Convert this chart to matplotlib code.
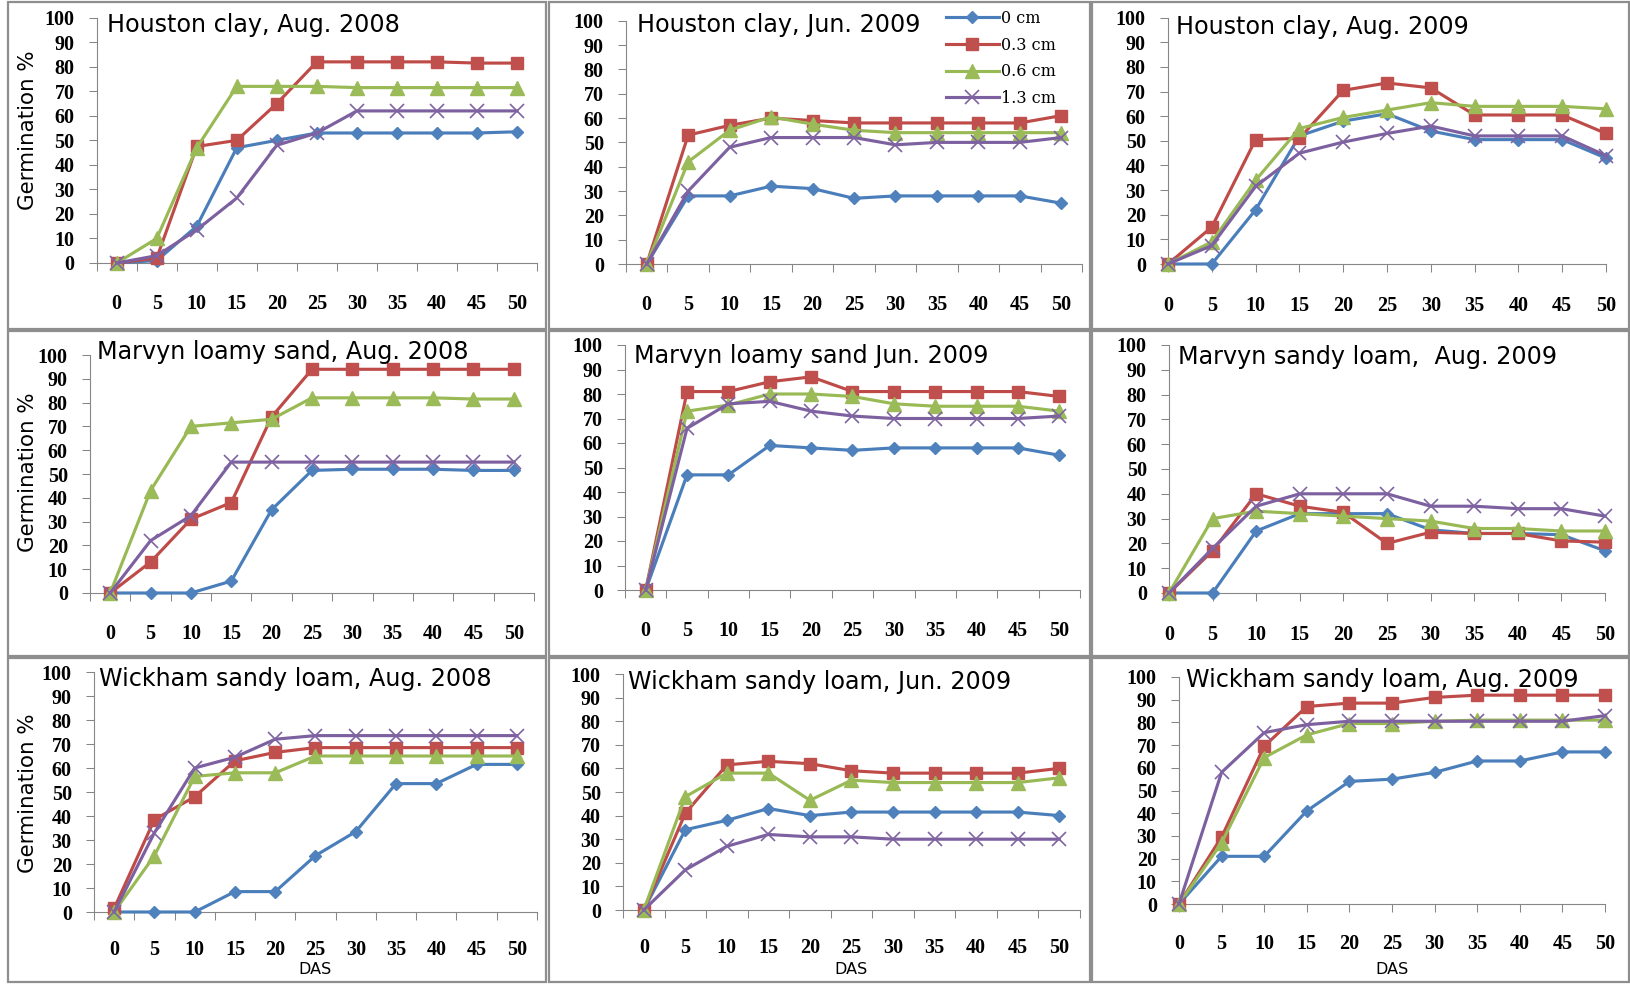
import matplotlib
matplotlib.use("Agg")
import matplotlib.pyplot as plt
from matplotlib.patches import Rectangle
from matplotlib.lines import Line2D
import numpy as np

# ---------------- data ----------------
das = [0, 5, 10, 15, 20, 25, 30, 35, 40, 45, 50]
depths = ["0 cm", "0.3 cm", "0.6 cm", "1.3 cm"]

# Houston clay, Aug. 2008
hc08_0 = [0, 1, 15, 47, 50, 53, 53, 53, 53, 53, 53.5]
hc08_3 = [0, 2, 47.5, 50, 65, 82, 82, 82, 82, 81.5, 81.5]
hc08_6 = [0, 10, 47, 72, 72, 72, 71.5, 71.5, 71.5, 71.5, 71.5]
hc08_13 = [0, 3, 13.5, 26.5, 48, 53, 62, 62, 62, 62, 62]
# Houston clay, Jun. 2009
hcj09_0 = [0, 28, 28, 32, 31, 27, 28, 28, 28, 28, 25]
hcj09_3 = [0, 53, 57, 60, 59, 58, 58, 58, 58, 58, 61]
hcj09_6 = [0, 42, 55, 60.5, 57.5, 55, 54, 54, 54, 54, 54]
hcj09_13 = [0, 30, 48, 52, 52, 52, 49, 50, 50, 50, 52]
# Houston clay, Aug. 2009
hca09_0 = [0, 0, 22, 52, 58, 61, 54, 50.5, 50.5, 50.5, 43]
hca09_3 = [0, 15, 50.5, 51, 70.5, 73.5, 71.5, 60.5, 60.5, 60.5, 53]
hca09_6 = [0, 9, 34, 55, 59.5, 62.5, 65.5, 64, 64, 64, 63]
hca09_13 = [0, 7.5, 31.5, 45, 49.5, 53, 56, 52, 52, 52, 44]
# Marvyn loamy sand, Aug. 2008
mla08_0 = [0, 0, 0, 5, 35, 51.5, 52, 52, 52, 51.5, 51.5]
mla08_3 = [0, 13, 31, 38, 74, 94, 94, 94, 94, 94, 94]
mla08_6 = [0, 43, 70, 71.5, 73, 82, 82, 82, 82, 81.5, 81.5]
mla08_13 = [0, 22, 32.5, 55, 55, 55, 55, 55, 55, 55, 55]
# Marvyn loamy sand Jun. 2009
mlj09_0 = [0, 47, 47, 59, 58, 57, 58, 58, 58, 58, 55]
mlj09_3 = [0, 81, 81, 85, 87, 81, 81, 81, 81, 81, 79]
mlj09_6 = [0, 73, 75.5, 80, 80, 79, 76, 75, 75, 75, 73]
mlj09_13 = [0, 66, 76, 77, 73, 71, 70, 70, 70, 70, 71]
# Marvyn sandy loam, Aug. 2009
msa09_0 = [0, 0, 25, 32, 32, 32, 25.5, 24, 24, 23.5, 17]
msa09_3 = [0, 17, 40, 35, 32.5, 20, 24.5, 24, 24, 21, 20.5]
msa09_6 = [0, 30, 33, 32, 31, 30, 29, 26, 26, 25, 25]
msa09_13 = [0, 18, 35, 40, 40, 40, 35, 35, 34, 34, 31]
# Wickham sandy loam, Aug. 2008
wsa08_0 = [0, 0, 0, 8.5, 8.5, 23.5, 33.5, 53.5, 53.5, 61.5, 61.5]
wsa08_3 = [1.5, 38.5, 48, 63, 66.5, 68.5, 68.5, 68.5, 68.5, 68.5, 68.5]
wsa08_6 = [0, 23.5, 56.5, 58, 58, 65, 65, 65, 65, 65, 65]
wsa08_13 = [0, 33, 60, 64.5, 72, 73.5, 73.5, 73.5, 73.5, 73.5, 73.5]
# Wickham sandy loam, Jun. 2009
wsj09_0 = [0, 34, 38, 43, 40, 41.5, 41.5, 41.5, 41.5, 41.5, 40]
wsj09_3 = [0, 41, 61.5, 63, 62, 59, 58, 58, 58, 58, 60]
wsj09_6 = [0, 48, 58, 58, 46.5, 55, 54, 54, 54, 54, 56]
wsj09_13 = [0, 17, 27, 32, 31, 31, 30, 30, 30, 30, 30]
# Wickham sandy loam, Aug. 2009
wsa09_0 = [0, 21, 21, 41, 54, 55, 58, 63, 63, 67, 67]
wsa09_3 = [0, 29.5, 69.5, 87, 88.5, 88.5, 91, 92, 92, 92, 92]
wsa09_6 = [0, 27, 64.5, 74.5, 79.5, 79.5, 80.5, 81, 81, 81, 81]
wsa09_13 = [0, 58, 75.5, 79, 80.5, 80.5, 80.5, 80.5, 80.5, 80.5, 83]

titles = ["Houston clay, Aug. 2008", "Houston clay, Jun. 2009", "Houston clay, Aug. 2009",
          "Marvyn loamy sand, Aug. 2008", "Marvyn loamy sand Jun. 2009", "Marvyn sandy loam,  Aug. 2009",
          "Wickham sandy loam, Aug. 2008", "Wickham sandy loam, Jun. 2009", "Wickham sandy loam, Aug. 2009"]

panel_series = [
    [hc08_0, hc08_3, hc08_6, hc08_13],
    [hcj09_0, hcj09_3, hcj09_6, hcj09_13],
    [hca09_0, hca09_3, hca09_6, hca09_13],
    [mla08_0, mla08_3, mla08_6, mla08_13],
    [mlj09_0, mlj09_3, mlj09_6, mlj09_13],
    [msa09_0, msa09_3, msa09_6, msa09_13],
    [wsa08_0, wsa08_3, wsa08_6, wsa08_13],
    [wsj09_0, wsj09_3, wsj09_6, wsj09_13],
    [wsa09_0, wsa09_3, wsa09_6, wsa09_13],
]

# ---------------- layout (pixels) ----------------
W, H = 1631, 984
fig = plt.figure(figsize=(W / 100, H / 100), dpi=100)
fig.patch.set_facecolor("white")

axes_px = [
    (96.7, 17.7, 537, 263), (626, 20.8, 1082, 264), (1168, 17.7, 1606, 264),
    (90, 355, 534, 593), (625, 345, 1080, 590), (1169, 345, 1605, 593),
    (94, 672, 537, 912), (623, 674, 1080, 910), (1179, 677, 1605, 904),
]
categorical = [True, True, False, True, True, False, True, True, False]
title_pos = [(107, 32), (637, 32), (1176, 34),
             (97, 359), (634, 363), (1178, 364),
             (99, 686), (628, 689), (1186, 687)]
col_px = [(8, 546), (549, 1090), (1092, 1629)]
row_px = [(2, 329), (331, 656), (658, 982)]

styles = [
    dict(color="#4A7EBB", marker="D", ms=6.5, mfc="#4F81BD", mec="#4F81BD"),
    dict(color="#BE4B48", marker="s", ms=8.8, mfc="#C0504D", mec="#C0504D"),
    dict(color="#98B954", marker="^", ms=9.5, mfc="#9BBB59", mec="#9BBB59"),
    dict(color="#7D60A0", marker="x", ms=9.5, mfc="#8064A2", mec="#8064A2", mew=1.2),
]
gray = "#868686"
tick_font = dict(family="Liberation Serif", weight="bold", size=14.5)

# panel borders
for (r0, r1) in row_px:
    for (c0, c1) in col_px:
        fig.add_artist(Rectangle((c0 / W, 1 - r1 / H), (c1 - c0) / W, (r1 - r0) / H,
                                 transform=fig.transFigure, fill=False,
                                 ec="#8E8E8E", lw=1.6))

xi = np.arange(len(das))
axes = []
for i, (x0, y0, x1, y1) in enumerate(axes_px):
    ax = fig.add_axes([x0 / W, 1 - y1 / H, (x1 - x0) / W, (y1 - y0) / H])
    axes.append(ax)
    for s, st in zip(panel_series[i], styles):
        ax.plot(xi, s, lw=2.25, clip_on=False, zorder=3, **st)
    ax.set_ylim(0, 100)
    ax.set_yticks(range(0, 101, 10))
    ax.tick_params(axis="y", length=6, width=0.75, color=gray, pad=10, direction="out")
    ax.set_xticks(xi)
    ax.set_xticklabels([str(d) for d in das])
    bottom_row = i >= 6
    if categorical[i]:
        ax.set_xlim(-0.5, len(das) - 0.5)
        ax.set_xticks(np.arange(-0.5, len(das), 1.0), minor=True)
        ax.tick_params(axis="x", which="major", length=0, pad=20.5 if bottom_row else 22)
        ax.tick_params(axis="x", which="minor", length=6, width=0.75, color=gray, direction="out")
    else:
        ax.set_xlim(0, len(das) - 1)
        ax.tick_params(axis="x", which="major", length=6, width=0.75, color=gray,
                       direction="out", pad=15.5 if bottom_row else 17)
    for lab in ax.get_xticklabels() + ax.get_yticklabels():
        lab.set_fontfamily(tick_font["family"])
        lab.set_fontweight(tick_font["weight"])
        lab.set_fontsize(tick_font["size"])
    for side in ("top", "right"):
        ax.spines[side].set_visible(False)
    for side in ("left", "bottom"):
        ax.spines[side].set_color(gray)
        ax.spines[side].set_linewidth(0.8)
    ax.set_facecolor("none")
    tx, ty = title_pos[i]
    fig.text(tx / W, 1 - ty / H, titles[i], fontsize=17.2, family="DejaVu Sans",
             ha="left", va="baseline")

# y labels (left column)
for yc in (130, 472, 793):
    fig.text(28 / W, 1 - yc / H, "Germination %", rotation=90, ha="center", va="center",
             fontsize=15.4, family="DejaVu Sans")

# x labels (bottom row)
for i in (6, 7, 8):
    x0, _, x1, _ = axes_px[i]
    fig.text((x0 + x1) / 2 / W, 1 - 970 / H, "DAS", ha="center", va="center",
             fontsize=11.5, family="DejaVu Sans")

# legend in the Houston clay Jun. 2009 panel
handles = [Line2D([0], [0], lw=2.25, **st) for st in styles]
axes[1].legend(handles, depths, loc="upper left", bbox_to_anchor=(946 / W, 1 - 10 / H),
               bbox_transform=fig.transFigure, frameon=False, borderpad=0,
               borderaxespad=0, handlelength=3.3, handletextpad=0.15,
               labelspacing=0.6, numpoints=1,
               prop=dict(family="DejaVu Serif", size=11.5))

fig.savefig("out.png", dpi=100, facecolor="white")
